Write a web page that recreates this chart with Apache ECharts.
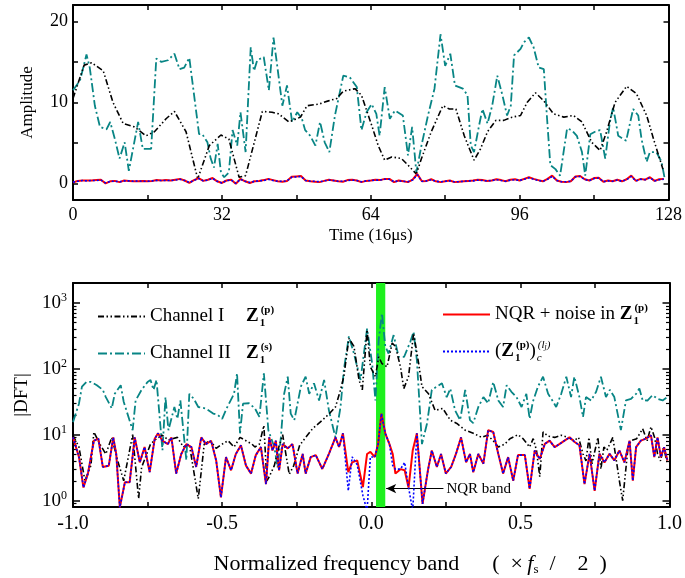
<!DOCTYPE html>
<html><head><meta charset="utf-8">
<script src="https://cdn.jsdelivr.net/npm/echarts@6/dist/echarts.min.js"></script>
<style>html,body{margin:0;padding:0;background:#fff}#c{width:685px;height:578px}</style>
</head><body><div id="c"></div>
<script>
// ---------- Top panel: time domain ----------
const timeTicks = [0, 32, 64, 96, 128];
const timeMinorTicks = [0, 16, 32, 48, 64, 80, 96, 112, 128];
const ampTicks = [0, 10, 20];
const ampMinorTicks = [0, 5, 10, 15, 20];

const ch1Time = [0,2.4,4,6.5,8.6,10.8,13.2,15.7,17.5,20,21.8,24.3,26.8,29.3,31.8,33.5,35.7,37.1,40.7,42.8,44.2,46.4,48.9,50.3,52.8,54.9,56.7,58.1,60.6,62,64.2,65.6,67,68.5,70.6,72,73.8,74.9,77,79.5,80.9,82.3,84.1,86.2,87.6,89.1,90.9,92.6,94.4,96.2,97.6,99.4,101.2,103.3,105.5,107.6,109.4,111.5,113.3,114.7,116.5,119,121.1,123.3,125,126.8];
const ch1Amp  = [10.5,14.6,14.9,13.9,10,7.4,7.0,5.9,6.4,8,8.9,6.4,0.6,4.7,6,5.5,0.8,1,8.9,8.8,8.6,7.6,8.2,9.6,9.8,10.2,10.5,11.4,11.7,10.9,7.2,4.7,2.9,3.3,3.1,2.3,1.2,3.1,6.4,9.6,9.2,9.2,5.9,2.9,4.3,6.4,7.8,7.8,8.2,8.4,10,11.2,10.2,8.6,8.2,8.4,7.6,5.1,4.1,6.4,10,12,11.1,8.4,5.1,1.8];

const ch2Time = [0,1.5,2.9,3.6,4.7,5.8,7.2,8,9,10,11.1,12,12.9,14,15,16.8,17.9,19,20.4,21.8,22.9,23.9,25,27.1,27.8,28.9,29.6,30.3,31.1,31.8,32.5,33.5,34.3,35.3,36,37.1,38.2,38.9,39.6,41,42.1,43.1,43.9,45,46,47.1,48.2,49.2,49.9,51,52.1,53.1,54.1,55.1,56.3,58.1,59.5,61,62,63.1,64.2,65.2,65.9,67,68.1,69.2,70.9,72,72.9,73.8,74.9,76.3,77.7,79,80,81.1,82.1,83.8,84.8,85.5,86.2,87.3,88,89.1,90.1,91.2,92.3,93.3,94.1,94.8,96.2,96.9,98,99,100.1,101.2,101.9,102.6,103.7,104.7,106.2,107.2,108.3,109.4,110.1,111.2,112.2,113.3,114.4,115.4,116.1,117.2,118.9,120.4,121.5,122.2,123.3,124,125.4,126.5,127.2];
const ch2Amp  = [11.5,12.7,15.9,14.3,9.6,7,6.7,7.6,5.5,3.1,5.1,1.6,4.3,7.6,4.3,4.3,15.4,15,15.2,16,14.1,14.3,15.5,6.1,6.1,5.1,3.1,2,4.9,1.4,0.8,1.4,6.6,4.7,8.8,3.9,16.8,13.9,15.2,15.6,11.5,18,14.5,9.6,12.1,7.6,8.8,8,6.6,5.9,4.7,7.6,5.1,3.9,8.4,13.3,13.1,11.9,6.6,8.8,9.8,8.6,5.9,11.9,8,9,8.4,3.5,7,1.4,4.7,8.4,11.7,18.4,14.5,16,12.1,11.7,10.9,4.7,3.9,7.2,9.2,7.4,9.6,13.3,10.9,8.4,9.6,15.8,16.6,17.4,18,16.8,14.3,14.1,8,2.3,1.8,1,6.8,6.6,5.9,3.9,1,6.1,6.4,6.6,3.1,7.6,9.4,5.9,5.3,9.2,8.4,5.5,2.7,3.9,3.9,2.7,0.6];

// samples t = 0..127
const nqrAmp = [0.15,0.35,0.4,0.4,0.4,0.45,0.5,0.05,0.3,0.35,
0.2,0.4,0.35,0.3,0.3,0.35,0.3,0.35,0.45,0.4,
0.45,0.4,0.5,0.6,0.4,0.1,0.45,0.7,0.35,0.5,
0.7,0.3,0.1,0.4,0.5,0.0,0.6,0.3,0.1,0.3,
0.35,0.45,0.6,0.45,0.3,0.25,0.35,0.85,0.9,0.95,
0.4,0.3,0.25,0.2,0.35,0.5,0.4,0.3,0.25,0.45,
0.5,0.4,0.2,0.35,0.4,0.5,0.45,0.6,0.6,0.2,
0.4,0.3,0.2,0.5,1.2,0.3,0.35,0.55,0.3,0.2,
0.3,0.4,0.2,0.25,0.3,0.35,0.4,0.5,0.45,0.35,
0.4,0.55,0.45,0.3,0.5,0.55,0.4,0.6,0.8,0.6,
0.45,0.3,0.6,1.0,0.4,0.25,0.2,0.3,0.9,0.95,
0.55,0.4,0.7,0.75,0.25,0.4,0.3,0.5,0.3,0.55,
1.0,0.35,0.6,0.5,0.8,0.35,0.55,0.6];
const recAmp = [0.2,0.3,0.4,0.35,0.4,0.4,0.45,0.1,0.3,0.3,
0.25,0.35,0.35,0.3,0.35,0.3,0.3,0.35,0.4,0.4,
0.4,0.4,0.45,0.55,0.4,0.15,0.4,0.65,0.35,0.45,
0.65,0.3,0.1,0.4,0.45,0.05,0.55,0.3,0.15,0.3,
0.35,0.4,0.55,0.4,0.3,0.3,0.35,0.8,0.85,0.9,
0.4,0.3,0.3,0.25,0.35,0.45,0.4,0.3,0.3,0.4,
0.45,0.4,0.25,0.35,0.4,0.45,0.45,0.55,0.55,0.25,
0.35,0.3,0.25,0.45,1.1,0.3,0.35,0.5,0.3,0.25,
0.3,0.35,0.25,0.25,0.3,0.35,0.35,0.45,0.4,0.35,
0.4,0.5,0.4,0.3,0.45,0.5,0.4,0.55,0.75,0.55,
0.4,0.3,0.55,0.9,0.4,0.25,0.25,0.3,0.85,0.9,
0.5,0.4,0.65,0.7,0.25,0.35,0.3,0.45,0.3,0.5,
0.9,0.35,0.55,0.5,0.75,0.35,0.5,0.55];

// ---------- Bottom panel: DFT magnitude ----------
const freqTicks = [-1, -0.5, 0, 0.5, 1];
const freqMinorTicks = [-1, -0.75, -0.5, -0.25, 0, 0.25, 0.5, 0.75, 1];
const dftTicks = [1, 10, 100, 1000];
const dftMinorTicks = [0.9,2,3,4,5,6,7,8,9,20,30,40,50,60,70,80,90,200,300,400,500,600,700,800,900];
const nqrBand = [0.016, 0.047];
const nqrArrow = [0.242, 0.05, 1.52];

const ch1Freq = [-1.0,-0.98,-0.96,-0.94,-0.93,-0.91,-0.89,-0.87,-0.85,-0.83,-0.80,-0.78,-0.77,-0.74,-0.72,-0.70,-0.68,-0.65,-0.63,-0.61,-0.58,-0.56,-0.54,-0.52,-0.50,-0.48,-0.46,-0.44,-0.42,-0.40,-0.39,-0.375,-0.36,-0.35,-0.342,-0.325,-0.31,-0.297,-0.275,-0.26,-0.24,-0.22,-0.197,-0.164,-0.14,-0.12,-0.103,-0.092,-0.075,-0.058,-0.041,-0.03,-0.014,-0.003,0.014,0.025,0.036,0.053,0.07,0.081,0.098,0.109,0.125,0.142,0.159,0.17,0.192,0.214,0.24,0.265,0.287,0.315,0.342,0.37,0.39,0.409,0.426,0.448,0.465,0.492,0.509,0.531,0.543,0.554,0.565,0.576,0.593,0.615,0.637,0.66,0.68,0.695,0.71,0.72,0.73,0.74,0.76,0.77,0.78,0.79,0.81,0.832,0.843,0.86,0.87,0.89,0.91,0.925,0.938,0.95,0.96,0.97,0.98,0.993];
const ch1Dft  = [9.8,6.5,2.0,3.4,11,7.2,5.1,9.1,4.0,2.0,10,1.07,3.2,7.2,8.7,9.8,8.3,9.1,6.5,7.2,1.07,7.2,8.1,6.2,7.2,8.1,6.5,9.1,8.1,7.2,6.5,7.2,13.8,2.0,2.3,3.4,6.5,10,2.5,3.4,6.9,9.1,12.3,16.6,20.9,26.3,47.9,75.9,288,219,67.6,47.9,389,107,75.9,151,120,107,245,219,107,50,75.9,347,120,53.7,41.7,23.4,25,16.6,14.8,11.7,10.5,9.1,9.8,8.1,6.5,7.2,8.7,10,8.7,6.5,8.7,5.8,2.3,11,9.5,9.1,9.8,9.1,8.1,9.1,5.1,4.0,9.1,3.6,9.1,3.0,6.5,5.8,9.1,2.0,1.0,5.8,8.1,8.7,12.3,8.1,13.2,9.1,5.1,4.0,6.5,3.6];

const ch2Freq = [-1.0,-0.98,-0.97,-0.955,-0.94,-0.92,-0.90,-0.89,-0.87,-0.86,-0.84,-0.83,-0.80,-0.79,-0.77,-0.75,-0.74,-0.73,-0.72,-0.70,-0.69,-0.68,-0.66,-0.65,-0.64,-0.62,-0.61,-0.595,-0.58,-0.555,-0.53,-0.515,-0.50,-0.485,-0.46,-0.45,-0.44,-0.43,-0.41,-0.39,-0.375,-0.36,-0.345,-0.325,-0.314,-0.303,-0.292,-0.28,-0.27,-0.258,-0.236,-0.22,-0.208,-0.192,-0.175,-0.158,-0.142,-0.12,-0.103,-0.092,-0.075,-0.058,-0.047,-0.036,-0.014,0.003,0.014,0.025,0.036,0.047,0.058,0.075,0.092,0.11,0.131,0.142,0.153,0.17,0.187,0.203,0.22,0.237,0.253,0.265,0.281,0.298,0.315,0.331,0.342,0.359,0.376,0.392,0.409,0.426,0.442,0.454,0.47,0.487,0.504,0.52,0.531,0.542,0.559,0.576,0.593,0.61,0.62,0.637,0.654,0.67,0.681,0.698,0.71,0.72,0.737,0.754,0.77,0.787,0.80,0.815,0.837,0.854,0.871,0.888,0.899,0.91,0.926,0.943,0.96,0.977,0.993];
const ch2Dft  = [15.5,29.5,53.7,63.1,63.1,56.2,47.9,37.2,25.1,41.7,56.2,31.6,11.7,33.1,47.9,63.1,67.6,47.9,67.6,5.8,37.2,11.7,26.3,17.4,33.1,4.1,41.7,35,26.3,25,20.9,20,17.4,25,41.7,85.1,10.5,29.5,30,25.1,18.6,85.1,11.7,6.5,3.2,9.1,41.7,75.9,20.9,16.6,53.7,75.9,41.7,60.3,33.1,67.6,23.4,9.1,26.3,95.5,309,170,107,67.6,407,120,33.1,275,692,219,170,324,151,151,257,363,135,7.2,14.8,47.9,53.7,60.3,37,50,23.4,16.6,47.9,16.6,15,26.3,37.2,30,63.1,33.1,26.3,56.2,44.7,37.2,26.3,41.7,17.4,31.6,53.7,75.9,41.7,31.6,26.3,41.7,75.9,37.2,75.9,37.2,18.6,37.2,33,44.7,75.9,37.2,47.9,37.2,11.7,33.1,35,41.7,50.1,33.1,33,39.8,35,33.1,37.2];

const nqrFreq = [-1.0,-0.98,-0.965,-0.95,-0.93,-0.915,-0.90,-0.88,-0.865,-0.855,-0.843,-0.826,-0.81,-0.793,-0.776,-0.76,-0.743,-0.726,-0.715,-0.70,-0.682,-0.67,-0.654,-0.637,-0.62,-0.603,-0.587,-0.57,-0.554,-0.537,-0.52,-0.504,-0.487,-0.47,-0.454,-0.437,-0.42,-0.403,-0.387,-0.37,-0.353,-0.342,-0.331,-0.32,-0.309,-0.297,-0.28,-0.264,-0.247,-0.23,-0.22,-0.203,-0.186,-0.164,-0.142,-0.12,-0.108,-0.095,-0.077,-0.064,-0.047,-0.028,-0.014,-0.003,0.012,0.023,0.034,0.047,0.061,0.072,0.081,0.098,0.112,0.125,0.139,0.153,0.172,0.19,0.203,0.22,0.234,0.25,0.268,0.284,0.301,0.318,0.331,0.342,0.359,0.376,0.392,0.409,0.426,0.442,0.459,0.476,0.492,0.515,0.531,0.548,0.565,0.582,0.598,0.615,0.632,0.648,0.665,0.682,0.698,0.715,0.732,0.749,0.765,0.782,0.799,0.815,0.832,0.849,0.866,0.877,0.888,0.904,0.921,0.938,0.949,0.96,0.971,0.982,0.993];
const nqrDft  = [9.1,4.6,1.58,2.57,8.1,8.7,3.24,3.39,9.1,5.1,0.79,1.9,1.9,9.1,3.8,6.5,2.7,8.7,10.5,8.1,7.2,9.1,2.57,5.1,7.2,6.5,3.24,9.1,7.2,8.1,4.07,1.12,4.57,2.88,5.1,6.9,3.39,2.57,4.9,6.5,1.78,9.1,5.75,8.1,2.88,7.2,6.2,7.2,2.57,5.1,2.57,4.57,4.9,3.02,5.1,9.1,6.5,10.5,2.7,3.8,4.07,1.6,5.1,5.5,4.57,7.2,20.9,10.5,7.2,5.1,2.57,3.0,2.88,1.58,5.75,10.5,0.89,2.88,5.75,3.24,5.1,2.57,3.24,5.1,9.1,3.8,5.1,2.69,5.1,3.63,11.7,11,5.1,2.57,4.57,2.0,4.9,4.9,1.51,5.75,4.27,7.24,8.13,6.46,7.24,8.13,9.12,7.76,6.92,1.78,5.13,1.41,5.13,3.8,5.13,4.07,5.75,3.8,8.13,2.0,6.46,8.13,8.71,9.77,4.57,9.12,4.57,6.46,4.07];
const recDft  = [9.1,4.6,1.58,2.57,8.1,8.7,3.24,3.39,9.1,5.1,0.79,1.9,1.9,9.1,3.8,6.5,2.7,8.7,10.5,8.1,7.2,9.1,2.57,5.1,7.2,6.5,3.24,9.1,7.2,8.1,4.07,1.12,4.57,2.88,5.1,6.9,3.39,2.57,4.9,6.5,1.78,9.1,5.75,8.1,2.88,7.2,6.2,7.2,2.57,5.1,2.57,4.57,4.9,3.02,5.1,9.1,6.5,10.5,1.41,4.6,3.5,1.2,0.7,4.6,4.57,7.2,20.9,10.5,7.2,3.4,3.0,3.0,3.8,1.6,0.7,10.5,0.89,2.88,5.75,3.24,5.1,2.57,3.24,5.1,9.1,3.8,5.1,2.69,5.1,3.63,11.7,11,5.1,2.57,4.57,2.0,4.9,4.9,1.51,5.75,4.27,7.24,8.13,6.46,7.24,8.13,9.12,7.76,6.92,1.78,5.13,1.41,5.13,3.8,5.13,4.07,5.75,3.8,8.13,2.0,6.46,8.13,8.71,9.77,4.57,9.12,4.57,6.46,4.07];

// ---------- helpers ----------
const zip = (xs, ys) => xs.map((x, i) => [x, ys[i]]);
const idx = ys => ys.map((y, i) => [i, y]);
const FONT = 'Liberation Serif';
const BLACK = '#000';
const TEAL = '#088585';
const styles = {
  'Channel I':  {color: BLACK, width: 1.6, type: [6, 2.5, 1.5, 2.5, 1.5, 2.5]},
  'Channel II': {color: TEAL,  width: 1.8, type: [9, 3, 2, 3]},
  'NQR':        {color: '#ff0000', width: 2, type: 'solid'},
  'Zc':         {color: '#0000ff', width: 1.6, type: [2, 2]}
};
function lineSeries(name, data, xi, yi, z) {
  const st = styles[name];
  return {
    name, type: 'line', data, xAxisIndex: xi, yAxisIndex: yi,
    symbol: 'none', z, silent: true,
    itemStyle: {color: st.color},
    lineStyle: {color: st.color, width: st.width, type: st.type}
  };
}
const axisLineStyle = {show: true, onZero: false, lineStyle: {color: BLACK, width: 2}};
function xAx(grid, min, max, pos, tickVals, labelVals, extra, labelExtra) {
  return Object.assign({
    type: 'value', gridIndex: grid, min, max, position: pos,
    axisLine: axisLineStyle,
    axisTick: {show: true, inside: true, length: 5, customValues: tickVals, lineStyle: {color: BLACK, width: 1.5}},
    axisLabel: labelVals ? Object.assign({customValues: labelVals, color: BLACK, fontFamily: FONT, fontSize: 18, margin: 6}, labelExtra || {}) : {show: false},
    splitLine: {show: false}
  }, extra || {});
}
const supRich = {
  base: {fontFamily: FONT, fontSize: 19, color: BLACK},
  sup: {fontFamily: FONT, fontSize: 12, color: BLACK, padding: [0, 0, 10, 0]}
};
const legRich = {
  n: {fontFamily: FONT, fontSize: 19, color: BLACK, width: 96},
  t: {fontFamily: FONT, fontSize: 19, color: BLACK},
  z: {fontFamily: FONT, fontSize: 19, fontWeight: 'bold', color: BLACK},
  sub: {fontFamily: FONT, fontSize: 11, fontWeight: 'bold', color: BLACK, padding: [14, 0, 0, 1], width: 1},
  sup: {fontFamily: FONT, fontSize: 11, fontWeight: 'bold', color: BLACK, padding: [0, 0, 12, 0]},
  isub: {fontFamily: FONT, fontSize: 11, fontStyle: 'italic', color: BLACK, padding: [14, 0, 0, 1], width: 1},
  isup: {fontFamily: FONT, fontSize: 11, fontStyle: 'italic', color: BLACK, padding: [0, 0, 12, 0]},
  isup2: {fontFamily: FONT, fontSize: 8, fontStyle: 'italic', color: BLACK, padding: [0, 0, 9, 0]}
};
const legendText = {
  'Channel I': '{n|Channel I}{z|Z}{sub|1}{sup|(p)}',
  'Channel II': '{n|Channel II}{z|Z}{sub|1}{sup|(s)}',
  'NQR': '{t|NQR + noise in }{z|Z}{sub|1}{sup|(p)}',
  'Zc': '{t|(}{z|Z}{sub|1}{sup|(p)}{t|)}{isub|c}{isup|(l}{isup2|j}{isup|)}'
};
function legend(name, left, top) {
  return {
    data: [name], left, top, orient: 'vertical', itemWidth: 47, itemHeight: 12, itemGap: 0,
    padding: 0, selectedMode: false,
    itemStyle: {color: 'rgba(0,0,0,0)', borderWidth: 0, opacity: 0},
    formatter: n => legendText[n],
    textStyle: {rich: legRich, fontFamily: FONT}
  };
}
function logAxis(pos, ticks, len, withLine, extra) {
  return Object.assign({
    type: 'log', logBase: 10, gridIndex: 1, min: 0.8, max: 2000, position: pos,
    axisLine: withLine ? axisLineStyle : {show: false, onZero: false},
    axisTick: {show: true, inside: true, length: len, customValues: ticks, lineStyle: {color: BLACK, width: withLine ? 1.5 : 1.2}},
    axisLabel: {show: false}, splitLine: {show: false}
  }, extra || {});
}

const option = {
  animation: false,
  backgroundColor: '#fff',
  textStyle: {fontFamily: FONT},
  grid: [
    {left: 73, top: 5, width: 599, height: 195},
    {left: 73, top: 283, width: 599, height: 224}
  ],
  legend: [
    legend('Channel I', 97, 305),
    legend('Channel II', 97, 342),
    legend('NQR', 442, 303),
    legend('Zc', 442, 340)
  ],
  xAxis: [
    xAx(0, 0, 128, 'bottom', timeMinorTicks, timeTicks, {
      name: 'Time (16\u03bcs)', nameLocation: 'middle', nameGap: 27,
      nameTextStyle: {fontFamily: FONT, fontSize: 17, color: BLACK}
    }),
    xAx(0, 0, 128, 'top', timeMinorTicks, null),
    xAx(1, -1, 1, 'bottom', freqMinorTicks, freqTicks, {
      name: 'Normalized frequency band\u2003\u2002(\u2002\u00d7\u2009{i|f}{s|s}\u2002/\u2002\u20022\u2002)', nameLocation: 'middle', nameGap: 46,
      nameTextStyle: {fontFamily: FONT, fontSize: 22, color: BLACK, padding: [0, 0, 0, 78], rich: {
        i: {fontFamily: FONT, fontSize: 22, fontStyle: 'italic', color: BLACK},
        s: {fontFamily: FONT, fontSize: 13, color: BLACK, padding: [10, 0, 0, 0]}
      }}
    }, {fontSize: 20, margin: 7, formatter: v => v.toFixed(1)}),
    xAx(1, -1, 1, 'top', freqMinorTicks, null)
  ],
  yAxis: [
    {
      type: 'value', gridIndex: 0, min: -2, max: 22, position: 'left',
      axisLine: axisLineStyle,
      axisTick: {show: true, inside: true, length: 5, customValues: ampMinorTicks, lineStyle: {color: BLACK, width: 1.5}},
      axisLabel: {customValues: ampTicks, color: BLACK, fontFamily: FONT, fontSize: 18, margin: 5},
      splitLine: {show: false},
      name: 'Amplitude', nameLocation: 'middle', nameGap: 37, nameRotate: 90,
      nameTextStyle: {fontFamily: FONT, fontSize: 17, color: BLACK}
    },
    {
      type: 'value', gridIndex: 0, min: -2, max: 22, position: 'right',
      axisLine: axisLineStyle,
      axisTick: {show: true, inside: true, length: 5, customValues: ampMinorTicks, lineStyle: {color: BLACK, width: 1.5}},
      axisLabel: {show: false}, splitLine: {show: false}
    },
    logAxis('left', dftTicks, 7, true, {
      axisLabel: {
        customValues: dftTicks, margin: 6,
        formatter: v => '{base|10}{sup|' + Math.round(Math.log10(v)) + '}',
        rich: supRich
      },
      name: '|DFT|', nameLocation: 'middle', nameGap: 37, nameRotate: 90,
      nameTextStyle: {fontFamily: FONT, fontSize: 19, color: BLACK}
    }),
    logAxis('left', dftMinorTicks, 3.5, false),
    logAxis('right', dftTicks, 7, true),
    logAxis('right', dftMinorTicks, 3.5, false)
  ],
  series: [
    // top panel
    lineSeries('Channel II', zip(ch2Time, ch2Amp), 0, 0, 2),
    lineSeries('Channel I', zip(ch1Time, ch1Amp), 0, 0, 3),
    lineSeries('NQR', idx(nqrAmp), 0, 0, 4),
    lineSeries('Zc', idx(recAmp), 0, 0, 5),
    // bottom panel: NQR band + arrow
    {
      name: 'band', type: 'line', data: [], xAxisIndex: 2, yAxisIndex: 2, z: 1, silent: true,
      markArea: {
        silent: true,
        itemStyle: {color: '#1ef01e', opacity: 1},
        data: [[{xAxis: nqrBand[0]}, {xAxis: nqrBand[1]}]]
      },
      markLine: {
        silent: true, symbol: ['none', 'arrow'], symbolSize: [7, 10],
        lineStyle: {color: BLACK, width: 1, type: 'solid'},
        label: {show: true, position: 'start', formatter: 'NQR band', color: BLACK, fontFamily: FONT, fontSize: 15, distance: 3},
        data: [[{coord: [nqrArrow[0], nqrArrow[2]]}, {coord: [nqrArrow[1], nqrArrow[2]]}]]
      }
    },
    lineSeries('Channel II', zip(ch2Freq, ch2Dft), 2, 2, 2),
    lineSeries('Channel I', zip(ch1Freq, ch1Dft), 2, 2, 3),
    lineSeries('NQR', zip(nqrFreq, nqrDft), 2, 2, 4),
    lineSeries('Zc', zip(nqrFreq, recDft), 2, 2, 5)
  ]
};
const chart = echarts.init(document.getElementById('c'), null, {renderer: 'canvas'});
chart.setOption(option);
</script></body></html>
